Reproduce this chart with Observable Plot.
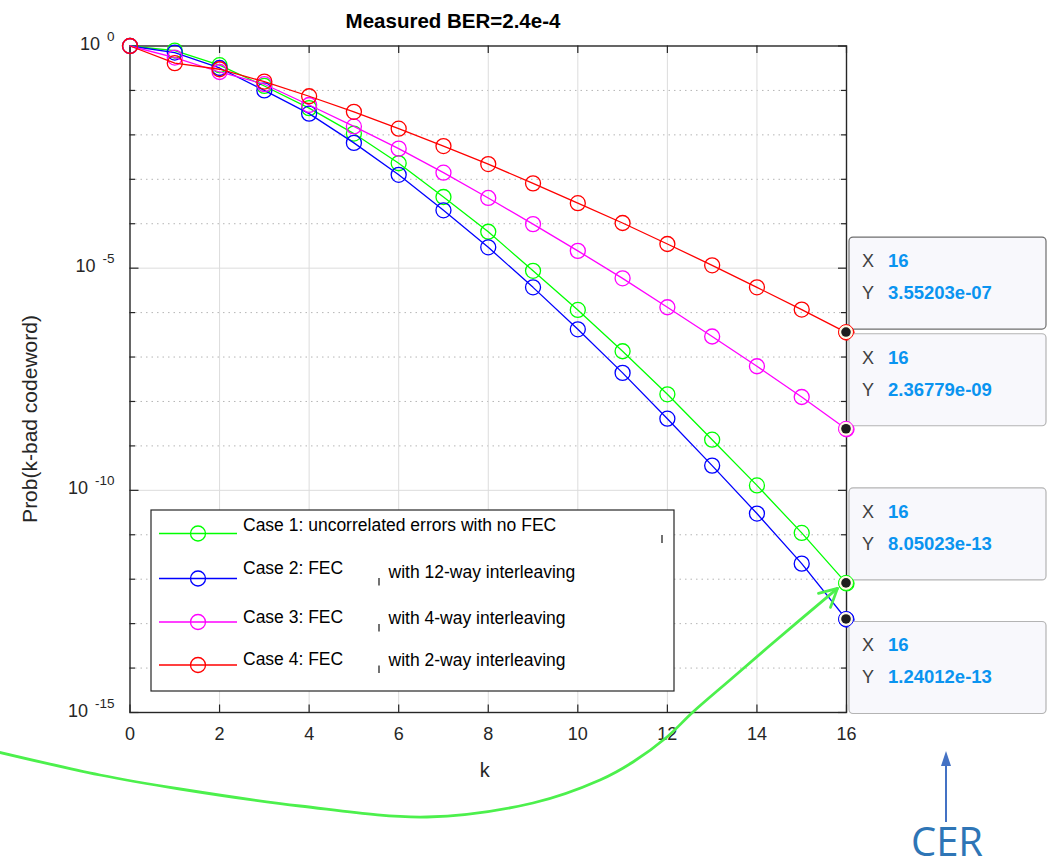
<!DOCTYPE html>
<html><head><meta charset="utf-8">
<script src="https://cdn.jsdelivr.net/npm/d3@7"></script>
<script src="https://cdn.jsdelivr.net/npm/@observablehq/plot@0.6"></script>
<style>
html,body{margin:0;padding:0;background:#fff;}
#chart{width:1048px;height:859px;overflow:hidden;}
</style>
</head><body><div id="chart"></div>
<script>
// ---- data ----
const kValues = [0,1,2,3,4,5,6,7,8,9,10,11,12,13,14,15,16];
const case1 = [1, 0.79, 0.37, 0.126, 0.040, 0.0107, 2.3e-3, 4.0e-4, 6.6e-5, 8.7e-6, 1.15e-6, 1.35e-7, 1.45e-8, 1.38e-9, 1.29e-10, 1.10e-11, 8.05023e-13];
const case2 = [1, 0.71, 0.32, 0.10, 0.030, 6.6e-3, 1.26e-3, 2.0e-4, 2.95e-5, 3.7e-6, 4.2e-7, 4.4e-8, 4.1e-9, 3.6e-10, 3.0e-11, 2.24e-12, 1.24012e-13];
const case3 = [1, 0.55, 0.26, 0.138, 0.047, 0.0155, 4.9e-3, 1.41e-3, 3.8e-4, 9.8e-5, 2.45e-5, 5.9e-6, 1.32e-6, 2.9e-7, 6.2e-8, 1.26e-8, 2.36779e-9];
const case4 = [1, 0.41, 0.30, 0.158, 0.074, 0.033, 0.0138, 5.6e-3, 2.2e-3, 8.1e-4, 2.9e-4, 1.04e-4, 3.5e-5, 1.16e-5, 3.7e-6, 1.17e-6, 3.55203e-7];
const seriesNames = ["Case 1", "Case 2", "Case 3", "Case 4"];
const seriesColors = ["#00ff00", "#0000ff", "#ff00ff", "#ff0000"];
const seriesValues = [case1, case2, case3, case4];
const legendMain = ["Case 1: uncorrelated errors with no FEC", "Case 2: FEC", "Case 3: FEC", "Case 4: FEC"];
const legendTail = ["", "with 12-way interleaving", "with 4-way interleaving", "with 2-way interleaving"];
const xTicks = [0,2,4,6,8,10,12,14,16];
const yMajorTicks = [1, 1e-5, 1e-10, 1e-15];
const yMajorExp = ["0", "-5", "-10", "-15"];
const yMinorTicks = [1e-1,1e-2,1e-3,1e-4,1e-6,1e-7,1e-8,1e-9,1e-11,1e-12,1e-13,1e-14];
const titleText = "Measured BER=2.4e-4";
const xLabel = "k";
const yLabel = "Prob(k-bad codeword)";
const tipOrder = [3, 2, 0, 1];          // series with data tips, top to bottom
const tipBelow = [false, false, false, true];
const annotationText = "CER";

// ---- table ----
const data = seriesNames.flatMap((s, i) => kValues.map((k, j) => ({series: s, k, p: seriesValues[i][j]})));

const W = 1048, H = 859, ML = 129.5, MR = 202, MT = 45.5, MB = 147;
const FW = W - ML - MR, FH = H - MT - MB;
const ink = "#262626";
const font = "'Liberation Sans', Arial, Helvetica, sans-serif";

const marks = [
  Plot.ruleY(yMinorTicks, {stroke: "#b5b5b5", strokeDasharray: "1.5,4", strokeWidth: 1}),
  Plot.ruleY([1e-5, 1e-10], {stroke: "#dcdcdc", strokeWidth: 1}),
  Plot.ruleX(xTicks.slice(1, -1), {stroke: "#dcdcdc", strokeWidth: 1}),
  Plot.frame({stroke: ink, strokeWidth: 1.4}),
  Plot.ruleX(xTicks, {insetTop: FH - 7.5, stroke: ink, strokeWidth: 1.2}),
  Plot.ruleX(xTicks, {insetBottom: FH - 7.5, stroke: ink, strokeWidth: 1.2}),
  Plot.ruleY(yMajorTicks, {insetRight: FW - 9, stroke: ink, strokeWidth: 1.2}),
  Plot.ruleY(yMinorTicks, {insetRight: FW - 5.5, stroke: ink, strokeWidth: 1.2}),
  Plot.ruleY(yMajorTicks, {insetLeft: FW - 8, stroke: ink, strokeWidth: 1.2}),
  Plot.ruleY(yMinorTicks, {insetLeft: FW - 5, stroke: ink, strokeWidth: 1.2}),
  Plot.axisX(xTicks, {tickSize: 0, tickPadding: 15, fontSize: 18, label: null}),
];
seriesNames.forEach(s => {
  const d = data.filter(r => r.series === s);
  marks.push(Plot.line(d, {x: "k", y: "p", stroke: "series", strokeWidth: 1.3}));
  marks.push(Plot.dot(d, {x: "k", y: "p", stroke: "series", r: 7.5, strokeWidth: 1.3}));
});

const plot = Plot.plot({
  width: W, height: H,
  marginLeft: ML, marginRight: MR, marginTop: MT, marginBottom: MB,
  style: {fontFamily: font, color: ink, background: "#fff", overflow: "visible"},
  x: {domain: [0, 16], axis: null},
  y: {type: "log", domain: [1e-15, 1], axis: null},
  color: {domain: seriesNames, range: seriesColors},
  marks
});
document.getElementById("chart").appendChild(plot);

const xs = plot.scale("x"), ys = plot.scale("y");
const X = v => xs.apply(v), Y = v => ys.apply(v);
const svg = d3.select(plot);
const g = svg.append("g").attr("font-family", font).attr("text-anchor", "start");

// y tick labels 10^n
yMajorTicks.forEach((v, i) => {
  const t = g.append("text").attr("x", ML - 15).attr("y", Y(v) + 4.5)
    .attr("text-anchor", "end").attr("fill", ink).attr("font-size", 18);
  t.append("tspan").text("10");
  t.append("tspan").attr("dx", 7).attr("dy", -9).attr("font-size", 13.5).text(yMajorExp[i]);
});

// title and axis labels
g.append("text").attr("x", 453).attr("y", 28).attr("text-anchor", "middle")
  .attr("font-weight", "bold").attr("font-size", 20.5).attr("fill", "#000").text(titleText);
g.append("text").attr("x", (X(0) + X(16)) / 2 - 3).attr("y", 777).attr("text-anchor", "middle")
  .attr("font-size", 20).attr("fill", ink).text(xLabel);
g.append("text").attr("transform", "translate(37,419) rotate(-90)").attr("text-anchor", "middle")
  .attr("font-size", 21).attr("fill", ink).text(yLabel);

// legend
const lg = g.append("g");
lg.append("rect").attr("x", 151).attr("y", 510).attr("width", 523).attr("height", 181)
  .attr("fill", "#fff").attr("stroke", ink).attr("stroke-width", 1.2);
const rowY = [533.5, 578.5, 622, 665];
const mainBase = [531, 574, 622.5, 664.5];
const tailBase = [0, 578, 624, 665.5];
seriesNames.forEach((s, i) => {
  lg.append("line").attr("x1", 159).attr("x2", 237).attr("y1", rowY[i]).attr("y2", rowY[i])
    .attr("stroke", seriesColors[i]).attr("stroke-width", 1.3);
  lg.append("circle").attr("cx", 198).attr("cy", rowY[i]).attr("r", 7.5)
    .attr("fill", "none").attr("stroke", seriesColors[i]).attr("stroke-width", 1.3);
  lg.append("text").attr("x", 243).attr("y", mainBase[i]).attr("font-size", 17.5).attr("fill", "#000").text(legendMain[i]);
  if (legendTail[i]) {
    lg.append("text").attr("x", 388.5).attr("y", tailBase[i]).attr("font-size", 17.5).attr("fill", "#000").text(legendTail[i]);
    lg.append("line").attr("x1", 379).attr("x2", 379).attr("y1", tailBase[i]).attr("y2", tailBase[i] + 7.5)
      .attr("stroke", ink).attr("stroke-width", 1.3);
  } else {
    lg.append("line").attr("x1", 662).attr("x2", 662).attr("y1", 535).attr("y2", 543)
      .attr("stroke", ink).attr("stroke-width", 1.3);
  }
});

// data tips
const fmt = v => { const [m, e] = v.toExponential(5).split("e"); return m + "e" + e[0] + e.slice(1).padStart(2, "0"); };
const tg = g.append("g");
tipOrder.forEach((si, n) => {
  const vals = seriesValues[si];
  const kx = kValues[kValues.length - 1], v = vals[vals.length - 1];
  const px = X(kx), py = Y(v);
  const top = tipBelow[n] ? py + 2.5 : py - 3 - 92;
  tg.append("rect").attr("x", px + 3).attr("y", top).attr("width", 197).attr("height", 92)
    .attr("rx", 4).attr("fill", "#f8f8fc").attr("stroke", n === 0 ? "#6e6e6e" : "#b4b4b4").attr("stroke-width", 1.2);
  tg.append("text").attr("x", px + 16).attr("y", top + 30).attr("font-size", 18).attr("fill", "#404040").text("X");
  tg.append("text").attr("x", px + 42).attr("y", top + 30).attr("font-size", 18.5).attr("font-weight", "bold").attr("fill", "#0a94f0").text(String(kx));
  tg.append("text").attr("x", px + 16).attr("y", top + 62).attr("font-size", 18).attr("fill", "#404040").text("Y");
  tg.append("text").attr("x", px + 42).attr("y", top + 62).attr("font-size", 18.5).attr("font-weight", "bold").attr("fill", "#0a94f0").text(fmt(v));
});
tipOrder.forEach(si => {
  const vals = seriesValues[si];
  const px = X(kValues[kValues.length - 1]), py = Y(vals[vals.length - 1]);
  tg.append("circle").attr("cx", px).attr("cy", py).attr("r", 7.5).attr("fill", "#fffbe6")
    .attr("stroke", seriesColors[si]).attr("stroke-width", 1);
  tg.append("circle").attr("cx", px).attr("cy", py).attr("r", 4.8).attr("fill", "#1e1e1e");
});

// green annotation curve with arrow
const gx = X(16), gy = Y(case1[case1.length - 1]);
const tip = [gx - 8.5, gy + 5.5];
const curvePts = [[-2,752],[100,775],[180,789],[300,806],[427,817],[533,803],[600,780],[633,762],[667,737],[693,712],[730,680],[767,648],tip];
g.append("path").attr("d", d3.line().curve(d3.curveCatmullRom)(curvePts))
  .attr("fill", "none").attr("stroke", "#4cf04c").attr("stroke-width", 2.8).attr("stroke-linecap", "round");
g.append("path").attr("d", `M${tip[0]-19},${tip[1]+5} L${tip[0]},${tip[1]} L${tip[0]-7},${tip[1]+19}`)
  .attr("fill", "none").attr("stroke", "#4cf04c").attr("stroke-width", 2.8).attr("stroke-linecap", "round").attr("stroke-linejoin", "round");

// CER arrow + text
g.append("line").attr("x1", 946).attr("x2", 946).attr("y1", 822).attr("y2", 762)
  .attr("stroke", "#4472c4").attr("stroke-width", 2);
g.append("path").attr("d", "M946,751 L951,766 L941,766 Z").attr("fill", "#4472c4");
g.append("text").attr("x", 947).attr("y", 856).attr("text-anchor", "middle")
  .attr("font-family", "'Open Sans', 'Noto Sans', sans-serif").attr("font-size", 40).attr("fill", "#2e75b6").text(annotationText);
</script>
</body></html>
